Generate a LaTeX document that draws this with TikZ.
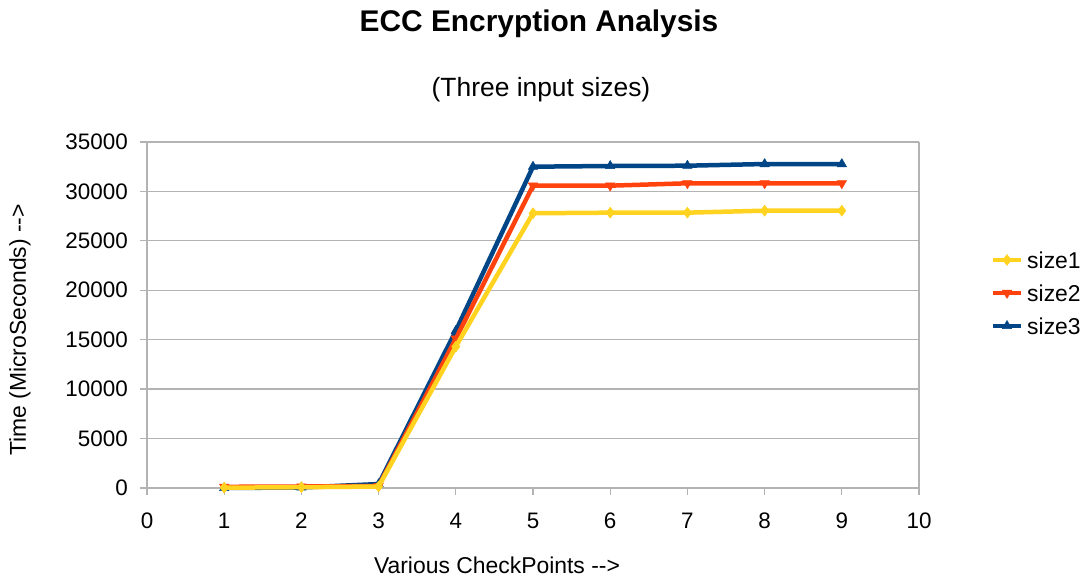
\documentclass[tikz,border=0pt]{standalone}
\usepackage{fontspec}
\setmainfont{Liberation Sans}
\usetikzlibrary{plotmarks}
\definecolor{sizeone}{HTML}{FFD320}
\definecolor{sizetwo}{HTML}{FF420E}
\definecolor{sizethree}{HTML}{004586}
\definecolor{gridgray}{HTML}{B3B3B3}

\begin{document}
\begin{tikzpicture}
		[x=1bp,y=1bp,
		charttitle/.style ={font=\fontsize{30}{34}\selectfont\bfseries},
		subtitle/.style ={font=\fontsize{26.5}{30}\selectfont},
		ticklabel/.style ={font=\fontsize{22.5}{26}\selectfont, inner sep=0pt},
		axislabel/.style ={font=\fontsize{23}{27}\selectfont, inner sep=0pt},
		legendtext/.style ={font=\fontsize{23}{27}\selectfont, anchor=west, inner sep=0pt},
		gridline/.style ={draw=gridgray, line width=1.3bp},
		series/.style ={line width=4.5bp, line join=round, mark size=5.5bp},
		series1/.style = {series, draw=sizeone, mark=diamond*, mark options={fill=sizeone, draw=sizeone, line width=0.5bp}},
		series2/.style = {series, draw=sizetwo, mark=triangle*, mark options={fill=sizetwo, draw=sizetwo, line width=0.5bp, rotate=180}},
		series3/.style = {series, draw=sizethree, mark=triangle*, mark options={fill=sizethree, draw=sizethree, line width=0.5bp}},
		]

		\useasboundingbox (0,0) rectangle (1089,577);

		\draw (539,553) node[charttitle] (title) {ECC Encryption Analysis};
		\draw (541,487) node[subtitle] (subtitle) {(Three input sizes)};

		\begin{scope}[shift={(147bp,89bp)}, x=77.2bp, y=9.886bp]
		% grid and frame
		\foreach \v in {5,10,...,35}
			\draw[gridline] (0,\v) -- (10,\v);
		\draw[gridline] (0,0) -- (10,0) -- (10,35);
		\draw[gridline] (0,0) -- (0,35);

		% y ticks
		\foreach \v/\t in {0/0,5/5000,10/10000,15/15000,20/20000,25/25000,30/30000,35/35000} {
			\draw[gridline] (0,\v) -- ++(-7bp,0);
			\draw ([xshift=-19bp]0,\v) node[ticklabel, anchor=east] (yt\v) {\t};
		}
		% x ticks
		\foreach \i in {0,...,10} {
			\draw[gridline] (\i,0) -- ++(0,-7bp);
			\draw ([yshift=-33bp]\i,0) node[ticklabel] (xt\i) {\i};
		}

		% data
		\draw[series3] plot coordinates {(1,0) (2,0.05) (3,0.4) (4,15.9) (5,32.5) (6,32.57) (7,32.6) (8,32.77) (9,32.77)};
		\draw[series2] plot coordinates {(1,0.12) (2,0.15) (3,0.2) (4,15.1) (5,30.58) (6,30.58) (7,30.82) (8,30.82) (9,30.82)};
		\draw[series1] plot coordinates {(1,0.03) (2,0.08) (3,0.15) (4,14.3) (5,27.79) (6,27.85) (7,27.85) (8,28.05) (9,28.05)};
		\end{scope}

		\draw (20,247) node[axislabel, rotate=90] (ylabel) {Time (MicroSeconds) {-}{-}>};
		\draw (497,12) node[axislabel] (xlabel) {Various CheckPoints {-}{-}>};

		% legend
		\coordinate (leg1w) at (993,317);
		\coordinate (leg1m) at (1007,317);
		\coordinate (leg1e) at (1021,317);
		\coordinate (leg2w) at (993,284);
		\coordinate (leg2m) at (1007,284);
		\coordinate (leg2e) at (1021,284);
		\coordinate (leg3w) at (993,251);
		\coordinate (leg3m) at (1007,251);
		\coordinate (leg3e) at (1021,251);

		\draw[series1, mark repeat=2, mark phase=2] plot coordinates {(leg1w) (leg1m) (leg1e)};
		\draw[series2, mark repeat=2, mark phase=2] plot coordinates {(leg2w) (leg2m) (leg2e)};
		\draw[series3, mark repeat=2, mark phase=2] plot coordinates {(leg3w) (leg3m) (leg3e)};

		\draw ([xshift=6bp]leg1e) node[legendtext] (size1) {size1};
		\draw ([xshift=6bp]leg2e) node[legendtext] (size2) {size2};
		\draw ([xshift=6bp]leg3e) node[legendtext] (size3) {size3};
	\end{tikzpicture}
\end{document}
